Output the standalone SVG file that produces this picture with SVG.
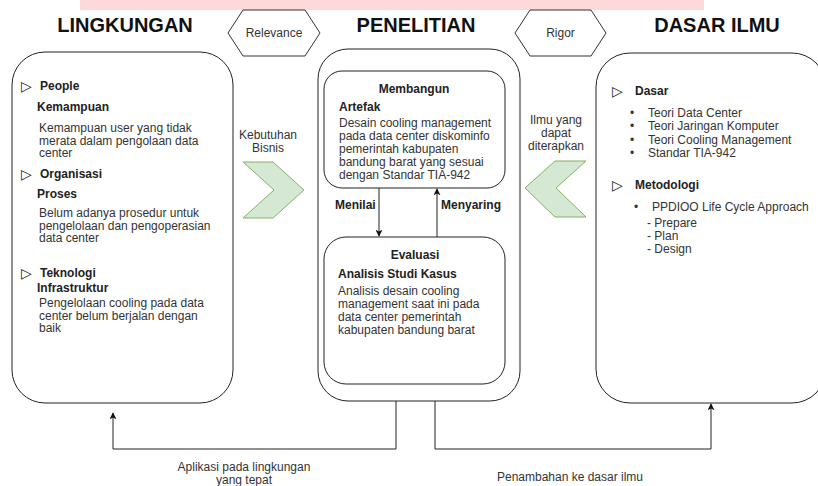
<svg xmlns="http://www.w3.org/2000/svg" width="818" height="486" viewBox="0 0 818 486">
<style>
  .box{fill:#fff;stroke:#222;stroke-width:1}
  .hex{fill:#fff;stroke:#333;stroke-width:1}
  .chev{fill:#d5e8d4;stroke:#82b366;stroke-width:1}
  .title{font-family:"Liberation Sans",Arial,sans-serif;font-size:20px;font-weight:bold;fill:#111;text-anchor:middle}
  .t{font-family:"Liberation Sans",Arial,sans-serif;font-size:12px;fill:#333}
  .b{font-family:"Liberation Sans",Arial,sans-serif;font-size:12px;font-weight:bold;fill:#222}
  .c{text-anchor:middle}
  .tri{font-family:"DejaVu Sans",sans-serif;font-size:14px;fill:#222}
  .edge{fill:none;stroke:#222;stroke-width:1}
</style>
<defs>
  <marker id="arr" viewBox="0 0 10 10" refX="9" refY="5" markerWidth="7" markerHeight="7" orient="auto" markerUnits="userSpaceOnUse">
    <path d="M0,0 L10,5 L0,10 L2.5,5 z" fill="#111"/>
  </marker>
</defs>
<rect x="80" y="0" width="624" height="10" fill="#fdd9dc"/>

<g id="titles">
  <text class="title" x="125" y="32">LINGKUNGAN</text>
  <text class="title" x="416" y="32">PENELITIAN</text>
  <text class="title" x="717" y="32">DASAR ILMU</text>
</g>

<g id="relevance">
  <polygon class="hex" points="228,33 243,10 305,10 320,33 305,56 243,56"/>
  <text class="t c" x="274" y="37">Relevance</text>
</g>
<g id="rigor">
  <polygon class="hex" points="515,33 530,10 591,10 606,33 591,56 530,56"/>
  <text class="t c" x="560.5" y="37">Rigor</text>
</g>

<g id="lingkungan">
  <rect class="box" x="12" y="52" width="221" height="351" rx="33" ry="33"/>
  <text class="tri" x="21" y="91">▷</text>
  <text class="b" x="40" y="90">People</text>
  <text class="b" x="37" y="111">Kemampuan</text>
  <text class="t" x="39" y="132">Kemampuan user yang tidak</text>
  <text class="t" x="39" y="144.5">merata dalam pengolaan data</text>
  <text class="t" x="39" y="157">center</text>
  <text class="tri" x="21" y="179">▷</text>
  <text class="b" x="40" y="178">Organisasi</text>
  <text class="b" x="37" y="197.5">Proses</text>
  <text class="t" x="39" y="217">Belum adanya prosedur untuk</text>
  <text class="t" x="39" y="229.5">pengelolaan dan pengoperasian</text>
  <text class="t" x="39" y="242">data center</text>
  <text class="tri" x="21" y="278">▷</text>
  <text class="b" x="40" y="277">Teknologi</text>
  <text class="b" x="37" y="292">Infrastruktur</text>
  <text class="t" x="39" y="307">Pengelolaan cooling pada data</text>
  <text class="t" x="39" y="319.5">center belum berjalan dengan</text>
  <text class="t" x="39" y="332">baik</text>
</g>

<g id="kebutuhan">
  <text class="t c" x="268" y="138.5">Kebutuhan</text>
  <text class="t c" x="268" y="151.5">Bisnis</text>
  <polygon class="chev" points="243,162 273,162 304,190 273,218 243,218 274,190"/>
</g>

<g id="penelitian">
  <rect class="box" x="318" y="49" width="202" height="352" rx="30" ry="30"/>
</g>

<g id="membangun">
  <rect class="box" x="324" y="71" width="181" height="117" rx="18" ry="18"/>
  <text class="b c" x="414" y="93">Membangun</text>
  <text class="b" x="339" y="111">Artefak</text>
  <text class="t" x="339" y="127">Desain cooling management</text>
  <text class="t" x="339" y="140">pada data center diskominfo</text>
  <text class="t" x="339" y="153">pemerintah kabupaten</text>
  <text class="t" x="339" y="166">bandung barat yang sesuai</text>
  <text class="t" x="339" y="179">dengan Standar TIA-942</text>
</g>

<g id="evaluasi">
  <rect class="box" x="324" y="237" width="181" height="147" rx="22" ry="22"/>
  <text class="b c" x="415" y="259">Evaluasi</text>
  <text class="b" x="338" y="278">Analisis Studi Kasus</text>
  <text class="t" x="338" y="295">Analisis desain cooling</text>
  <text class="t" x="338" y="308">management saat ini pada</text>
  <text class="t" x="338" y="321">data center pemerintah</text>
  <text class="t" x="338" y="334">kabupaten bandung barat</text>
</g>

<g id="ilmu">
  <text class="t c" x="556" y="124">Ilmu yang</text>
  <text class="t c" x="556" y="137">dapat</text>
  <text class="t c" x="556" y="150">diterapkan</text>
  <polygon class="chev" points="586,161 555,161 525,188 555,217 586,217 556,188"/>
</g>

<g id="dasar-ilmu">
  <rect class="box" x="596" y="53" width="230" height="350" rx="34" ry="34"/>
  <text class="tri" x="612" y="96">▷</text>
  <text class="b" x="635" y="95">Dasar</text>
  <text class="t" x="630" y="117">•</text>
  <text class="t" x="648" y="117">Teori Data Center</text>
  <text class="t" x="630" y="130">•</text>
  <text class="t" x="648" y="130">Teori Jaringan Komputer</text>
  <text class="t" x="630" y="143.5">•</text>
  <text class="t" x="648" y="143.5">Teori Cooling Management</text>
  <text class="t" x="630" y="157">•</text>
  <text class="t" x="648" y="157">Standar TIA-942</text>
  <text class="tri" x="612" y="190">▷</text>
  <text class="b" x="635" y="189">Metodologi</text>
  <text class="t" x="634" y="211">•</text>
  <text class="t" x="652" y="211">PPDIOO Life Cycle Approach</text>
  <text class="t" x="647" y="227">- Prepare</text>
  <text class="t" x="647" y="240">- Plan</text>
  <text class="t" x="647" y="253">- Design</text>
</g>

<g id="connectors">
  <path class="edge" d="M379,188 V236" marker-end="url(#arr)"/>
  <text class="b" x="335" y="209">Menilai</text>
  <path class="edge" d="M437,237 V189" marker-end="url(#arr)"/>
  <text class="b" x="441" y="209">Menyaring</text>
  <path class="edge" d="M396,401 V449 H113 V413" marker-end="url(#arr)"/>
  <path class="edge" d="M435,401 V449 H711 V404" marker-end="url(#arr)"/>
  <text class="t c" x="244" y="471">Aplikasi pada lingkungan</text>
  <text class="t c" x="244" y="483.5">yang tepat</text>
  <text class="t c" x="570" y="481">Penambahan ke dasar ilmu</text>
</g>
</svg>
